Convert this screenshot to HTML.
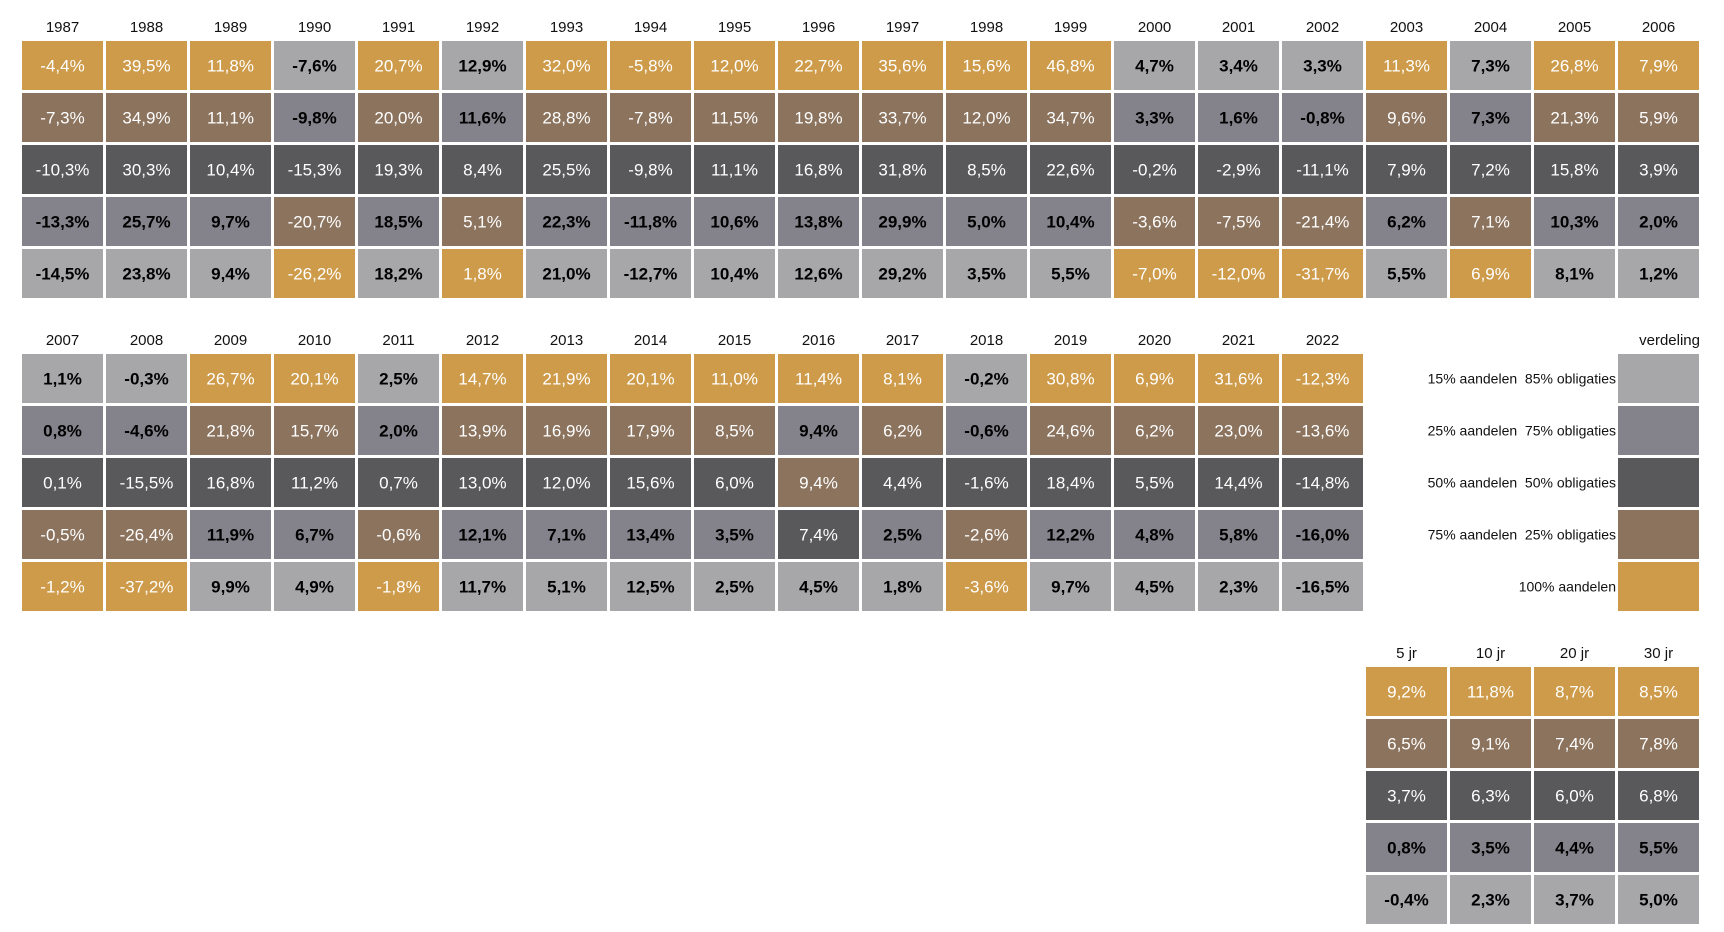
<!DOCTYPE html>
<html><head><meta charset="utf-8"><style>
body{margin:0;width:1724px;height:932px;background:#fff;overflow:hidden;font-family:"Liberation Sans",sans-serif}
svg{display:block}
</style></head><body>
<svg id="chart" width="1724" height="932" xmlns="http://www.w3.org/2000/svg"></svg>
<script>
// portfolio order: 100% (gold), 75% (brown), 50% (dark), 25% (mid), 15% (light)
const years1 = ["1987","1988","1989","1990","1991","1992","1993","1994","1995","1996","1997","1998","1999","2000","2001","2002","2003","2004","2005","2006"];
const p100a = [-4.4,39.5,11.8,-26.2,20.7,1.8,32.0,-5.8,12.0,22.7,35.6,15.6,46.8,-7.0,-12.0,-31.7,11.3,6.9,26.8,7.9];
const p75a  = [-7.3,34.9,11.1,-20.7,20.0,5.1,28.8,-7.8,11.5,19.8,33.7,12.0,34.7,-3.6,-7.5,-21.4,9.6,7.1,21.3,5.9];
const p50a  = [-10.3,30.3,10.4,-15.3,19.3,8.4,25.5,-9.8,11.1,16.8,31.8,8.5,22.6,-0.2,-2.9,-11.1,7.9,7.2,15.8,3.9];
const p25a  = [-13.3,25.7,9.7,-9.8,18.5,11.6,22.3,-11.8,10.6,13.8,29.9,5.0,10.4,3.3,1.6,-0.8,6.2,7.3,10.3,2.0];
const p15a  = [-14.5,23.8,9.4,-7.6,18.2,12.9,21.0,-12.7,10.4,12.6,29.2,3.5,5.5,4.7,3.4,3.3,5.5,7.3,8.1,1.2];
const years2 = ["2007","2008","2009","2010","2011","2012","2013","2014","2015","2016","2017","2018","2019","2020","2021","2022"];
const p100b = [-1.2,-37.2,26.7,20.1,-1.8,14.7,21.9,20.1,11.0,11.4,8.1,-3.6,30.8,6.9,31.6,-12.3];
const p75b  = [-0.5,-26.4,21.8,15.7,-0.6,13.9,16.9,17.9,8.5,9.4,6.2,-2.6,24.6,6.2,23.0,-13.6];
const p50b  = [0.1,-15.5,16.8,11.2,0.7,13.0,12.0,15.6,6.0,7.4,4.4,-1.6,18.4,5.5,14.4,-14.8];
const p25b  = [0.8,-4.6,11.9,6.7,2.0,12.1,7.1,13.4,3.5,9.4,2.5,-0.6,12.2,4.8,5.8,-16.0];
const p15b  = [1.1,-0.3,9.9,4.9,2.5,11.7,5.1,12.5,2.5,4.5,1.8,-0.2,9.7,4.5,2.3,-16.5];
const periods = ["5 jr","10 jr","20 jr","30 jr"];
const p100c = [9.2,11.8,8.7,8.5];
const p75c  = [6.5,9.1,7.4,7.8];
const p50c  = [3.7,6.3,6.0,6.8];
const p25c  = [0.8,3.5,4.4,5.5];
const p15c  = [-0.4,2.3,3.7,5.0];
const legendLabels = ["15% aandelen  85% obligaties","25% aandelen  75% obligaties","50% aandelen  50% obligaties","75% aandelen  25% obligaties","100% aandelen"];

const colors = ["#CE9B4A","#8B735E","#59595B","#84838C","#A7A7AA"];
const whiteText = [true,true,true,false,false];
const NS="http://www.w3.org/2000/svg";
const svg=document.getElementById('chart');
const X0=22, PITCH=84, CW=81, RP=52, CH=49;
const colX = i => X0 + i*PITCH;
function mk(tag,attrs,parent){const e=document.createElementNS(NS,tag);for(const k in attrs)e.setAttribute(k,attrs[k]);(parent||svg).appendChild(e);return e;}
function fmt(v){return v.toFixed(1).replace('.',',')+'%';}
function block(labels,series,colStart,top,name){
  const g=mk('g',{});
  
  
  labels.forEach((lab,i)=>{
    const cx=colX(colStart+i)+CW/2;
    const t=mk('text',{x:cx,y:top-9,'text-anchor':'middle','font-size':15,fill:'#111'},g);
    t.textContent=lab;
    
    
    let cells=series.map((s,p)=>({v:s[i],p:p}));
    cells.sort((a,b)=> b.v-a.v || b.p-a.p);
    cells.forEach((c,r)=>{
      const y=top+r*RP;
      const rect=mk('rect',{x:colX(colStart+i),y:y,width:CW,height:CH,fill:colors[c.p]},g);
      
      
      const tx=mk('text',{x:cx,y:y+CH/2+6,'text-anchor':'middle','font-size':17,
        fill:whiteText[c.p]?'#fff':'#000','font-weight':whiteText[c.p]?'normal':'bold'},g);
      tx.textContent=fmt(c.v);
      
      
    });
  });
}
block(years1,[p100a,p75a,p50a,p25a,p15a],0,41,'table-1987-2006');
block(years2,[p100b,p75b,p50b,p25b,p15b],0,354,'table-2007-2022');
block(periods,[p100c,p75c,p50c,p25c,p15c],16,667,'table-averages');
// legend
const lg=mk('g',{});


const vt=mk('text',{x:1700,y:345,'text-anchor':'end','font-size':15,fill:'#111'},lg);
vt.textContent='verdeling';


const legOrder=[4,3,2,1,0];
legendLabels.forEach((lab,r)=>{
  const y=354+r*RP;
  const rc=mk('rect',{x:colX(19),y:y,width:CW,height:CH,fill:colors[legOrder[r]]},lg);
  
  
  const t=mk('text',{x:1616,y:y+CH/2+5,'text-anchor':'end','font-size':14,fill:'#111','xml:space':'preserve'},lg);
  t.setAttribute('style','white-space:pre');
  t.textContent=lab;
  
  
});
</script>
</body></html>
